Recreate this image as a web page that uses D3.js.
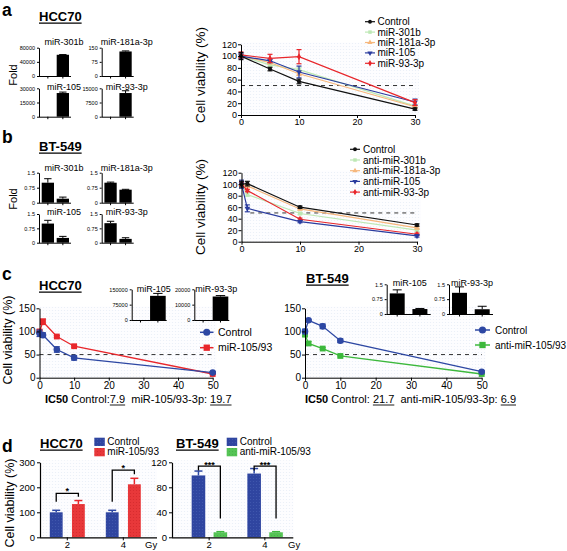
<!DOCTYPE html>
<html><head><meta charset="utf-8">
<script src="https://cdn.jsdelivr.net/npm/d3@7"></script>
<style>body{margin:0;background:#fff}svg{display:block}</style>
</head><body>
<script>
// ================= DATA =================
const foldGroups = ["Control", "miR"];
// Panel a – fold change (HCC70)
const foldTitlesA = ["miR-301b", "miR-181a-3p", "miR-105", "miR-93-3p"];
const foldValuesA = [[0, 60000], [0, 130], [0, 25000], [0, 12500]];
const foldErrorsA = [[0, 600], [0, 3], [0, 1000], [0, 1200]];
const foldMaxA = [80000, 150, 30000, 15000];
const foldTicksA = [[0, 40000, 80000], [0, 75, 150], [0, 15000, 30000], [0, 7500, 15000]];
// Panel b – fold change (BT-549)
const foldTitlesB = ["miR-301b", "miR-181a-3p", "miR-105", "miR-93-3p"];
const foldValuesB = [[1.0, 0.2], [1.0, 0.65], [1.0, 0.25], [1.02, 0.2]];
const foldErrorsB = [[0.2, 0.08], [0.03, 0.02], [0.17, 0.08], [0.1, 0.06]];
const foldTicksB = [0, 0.75, 1.5];

// Panel a – viability
const dosesA = [0, 5, 10, 30];
const seriesA = ["Control", "miR-301b", "miR-181a-3p", "miR-105", "miR-93-3p"];
const viabilityA = [[100, 78, 57, 10], [100, 85, 77, 15], [100, 89, 70, 14], [100, 92, 73, 22], [102, 96, 99, 21]];
const viabilityErrA = [[6, 3, 4, 2], [3, 2, 3, 2], [3, 2, 3, 2], [4, 3, 10, 5], [5, 7, 12, 5]];
const axisXTicksAB = [0, 10, 20, 30];
const axisYTicksAB = [0, 20, 40, 60, 80, 100, 120];

// Panel b – viability
const dosesB = [0, 1, 10, 30];
const seriesB = ["Control", "anti-miR-301b", "anti-miR-181a-3p", "anti-miR-105", "anti-miR-93-3p"];
const viabilityB = [[100, 101, 60, 29], [100, 82, 49, 20], [100, 97, 57, 24], [100, 58, 35, 10], [100, 89, 39, 13]];
const viabilityErrB = [[5, 4, 2, 2], [3, 3, 2, 2], [3, 3, 2, 2], [7, 6, 2, 2], [3, 2, 2, 2]];

// Panel c – viability
const dosesC = [0, 1, 5, 10, 50];
const axisXTicksC = [0, 10, 20, 30, 40, 50];
const axisYTicksC = [0, 50, 100, 150];
const seriesCH = ["Control", "miR-105/93"];
const viabilityCH = [[96, 92, 61, 43, 11], [100, 121, 89, 68, 8]];
const viabilityErrCH = [[7, 5, 6, 5, 2], [3, 6, 2, 2, 1]];
const seriesCB = ["Control", "anti-miR-105/93"];
const viabilityCB = [[100, 124, 111, 80, 13], [93, 74, 63, 47, 8]];
const viabilityErrCB = [[5, 2, 5, 4, 2], [3, 4, 2, 2, 1]];
// Panel c insets
const insetTitlesCH = ["miR-105", "miR-93-3p"];
const insetValuesCH = [[0, 118000], [0, 15300]];
const insetErrorsCH = [[0, 12000], [0, 600]];
const insetMaxCH = [150000, 20000];
const insetTicksCH = [[0, 75000, 150000], [0, 10000, 20000]];
const insetTitlesCB = ["miR-105", "miR-93-3p"];
const insetValuesCB = [[1.04, 0.25], [1.07, 0.24]];
const insetErrorsCB = [[0.18, 0.03], [0.3, 0.15]];
const insetTicksCB = [0, 0.75, 1.5];
const ic50H = ["7.9", "19.7"];
const ic50B = ["21.7", "6.9"];

// Panel d – radiation
const gyDoses = ["2", "4"];
const seriesDH = ["Control", "miR-105/93"];
const radiationDH = [[100, 100], [133, 212]];      // series-major
const radiationErrDH = [[8, 8], [14, 24]];
const axisYTicksDH = [0, 100, 200, 300];
const sigDH = [{ label: "*", top: 176, left: 142, right: 162 }, { label: "*", top: 269, left: 142, right: 252 }];
const seriesDB = ["Control", "anti-miR-105/93"];
const radiationDB = [[99, 102], [8, 8]];
const radiationErrDB = [[7, 8], [1, 1]];
const axisYTicksDB = [0, 40, 80, 120];
const sigDB = [{ label: "***", top: 114, left: 107, right: 30 }, { label: "***", top: 114, left: 107, right: 30 }];

// ================= DRAWING =================
const FONT = "'Liberation Sans', Arial, Helvetica, sans-serif";
const W = 567, H = 551;
const svg = d3.select("body").append("svg").attr("width", W).attr("height", H)
  .attr("font-family", FONT);
const defs = svg.append("defs");
function dotPattern(id, bg, dot, size, r) {
  const p = defs.append("pattern").attr("id", id).attr("width", size).attr("height", size)
    .attr("patternUnits", "userSpaceOnUse");
  p.append("rect").attr("width", size).attr("height", size).attr("fill", bg);
  p.append("circle").attr("cx", size / 2).attr("cy", size / 2).attr("r", r).attr("fill", dot);
}
dotPattern("bgdots", "#fdfdff", "#e9eef7", 3, 0.6);
dotPattern("blueBar", "#2f45a0", "#4259b0", 3, 0.6);
dotPattern("redBar", "#e8383a", "#d42a2d", 3, 0.6);
dotPattern("greenBar", "#55c455", "#45b445", 3, 0.6);

const C = { black: "#111", green: "#bde8b4", orange: "#f6b77c", blue: "#2a3b9e", red: "#e8262b",
  cblue: "#2d47a3", cred: "#e8262b", cgreen: "#3cb83c" };

function styleAxis(g, fs) {
  g.attr("font-family", FONT).attr("font-size", fs);
  g.select("path.domain").attr("stroke", "#000").attr("stroke-width", 1);
  g.selectAll(".tick line").attr("stroke", "#000");
  g.selectAll(".tick text").attr("fill", "#000");
}
function txt(x, y, s, fs, opts = {}) {
  const t = svg.append("text").attr("x", x).attr("y", y).attr("font-size", fs).text(s)
    .attr("font-weight", opts.bold ? "bold" : null)
    .attr("text-anchor", opts.anchor || "start");
  return t;
}
function ulTitle(x, y, s, fs) {
  const t = txt(x, y, s, fs, { bold: true });
  const bb = t.node().getBBox();
  svg.append("line").attr("x1", bb.x).attr("x2", bb.x + bb.width).attr("y1", y + 2.2).attr("y2", y + 2.2)
    .attr("stroke", "#000").attr("stroke-width", 1.2);
}
function vLabel(cx, cy, s, fs) {
  svg.append("text").attr("transform", `translate(${cx},${cy}) rotate(-90)`)
    .attr("text-anchor", "middle").attr("dy", "0.35em").attr("font-size", fs).text(s);
}

// small black bar chart (fold change)
function foldChart(cfg) {
  const { x0, yZero, yTop, max, ticks, values, errors, title, titleDx, titleY, bandFrom, bandTo, padIn, axisLen } = cfg;
  const g = svg.append("g");
  const y = d3.scaleLinear().domain([0, max]).range([yZero, yTop]);
  const x = d3.scaleBand().domain(foldGroups).range([x0 + bandFrom, x0 + bandTo]).paddingInner(padIn).paddingOuter(0);
  const bw = x.bandwidth();
  values.forEach((v, i) => {
    if (v <= 0) return;
    const bx = x(foldGroups[i]), cx = bx + bw / 2;
    g.append("rect").attr("x", bx).attr("width", bw).attr("y", y(v)).attr("height", yZero - y(v)).attr("fill", "#000");
    const ye = y(v + errors[i]);
    g.append("line").attr("x1", cx).attr("x2", cx).attr("y1", y(v)).attr("y2", ye).attr("stroke", "#000");
    g.append("line").attr("x1", cx - bw * 0.3).attr("x2", cx + bw * 0.3).attr("y1", ye).attr("y2", ye).attr("stroke", "#000");
  });
  const ay = g.append("g").attr("transform", `translate(${x0},0)`)
    .call(d3.axisLeft(y).tickValues(ticks).tickSize(2).tickPadding(2).tickSizeOuter(0).tickFormat(d => String(d)));
  styleAxis(ay, 5.5);
  g.append("line").attr("x1", x0).attr("x2", x0 + axisLen).attr("y1", yZero + 0.5).attr("y2", yZero + 0.5).attr("stroke", "#000");
  foldGroups.forEach(k => {
    const cx = x(k) + bw / 2;
    g.append("line").attr("x1", cx).attr("x2", cx).attr("y1", yZero).attr("y2", yZero + 2.5).attr("stroke", "#000");
  });
  txt(x0 + titleDx, titleY, title, 9, { anchor: "middle" });
}

// line chart with error bars
function lineChart(cfg) {
  const { x0, x1, yZero, yTop, xMax, yMax, xTicks, yTicks, doses, values, errors, colors, symbols,
    symSize, fs, dashFrom, lw, capW, order } = cfg;
  const x = d3.scaleLinear().domain([0, xMax]).range([x0, x1]);
  const y = d3.scaleLinear().domain([0, yMax]).range([yZero, yTop]);
  svg.append("rect").attr("x", x0).attr("y", yTop - 2).attr("width", x1 - x0 + 4).attr("height", yZero - yTop + 2)
    .attr("fill", "url(#bgdots)");
  svg.append("line").attr("x1", x(dashFrom)).attr("x2", x(xMax)).attr("y1", y(50)).attr("y2", y(50))
    .attr("stroke", "#333").attr("stroke-width", 1).attr("stroke-dasharray", "4,4");
  order.forEach(si => {
    const vals = values[si];
    const pts = doses.map((d, i) => [x(d), y(vals[i])]);
    svg.append("path").attr("d", d3.line()(pts)).attr("fill", "none").attr("stroke", colors[si]).attr("stroke-width", lw);
    doses.forEach((d, i) => {
      const e = errors[si][i]; if (!e) return;
      const cx = x(d), ya = y(vals[i] - e), yb = y(vals[i] + e);
      svg.append("line").attr("x1", cx).attr("x2", cx).attr("y1", ya).attr("y2", yb).attr("stroke", colors[si]).attr("stroke-width", 1.2);
      [ya, yb].forEach(yy => svg.append("line").attr("x1", cx - capW).attr("x2", cx + capW).attr("y1", yy).attr("y2", yy)
        .attr("stroke", colors[si]).attr("stroke-width", 1.2));
    });
    const sym = symbols[si];
    svg.append("g").selectAll("path").data(doses).join("path")
      .attr("transform", (d, i) => `translate(${x(d)},${y(vals[i])}) rotate(${sym.rot || 0})`)
      .attr("d", d3.symbol(sym.type, symSize)).attr("fill", colors[si]);
  });
  const ax = svg.append("g").attr("transform", `translate(0,${yZero})`)
    .call(d3.axisBottom(x).tickValues(xTicks).tickSize(3).tickPadding(1).tickSizeOuter(0));
  styleAxis(ax, fs);
  const ay = svg.append("g").attr("transform", `translate(${x0},0)`)
    .call(d3.axisLeft(y).tickValues(yTicks).tickSize(3).tickPadding(1).tickSizeOuter(0));
  styleAxis(ay, fs);
}

function legend(cfg) {
  const { lx0, lx1, tx, y0, dy, names, colors, symbols, symSize, fs, lw } = cfg;
  names.forEach((n, i) => {
    const yy = y0 + i * dy;
    svg.append("line").attr("x1", lx0).attr("x2", lx1).attr("y1", yy).attr("y2", yy).attr("stroke", colors[i]).attr("stroke-width", lw);
    const sym = symbols[i];
    svg.append("path").attr("transform", `translate(${(lx0 + lx1) / 2},${yy}) rotate(${sym.rot || 0})`)
      .attr("d", d3.symbol(sym.type, symSize)).attr("fill", colors[i]);
    svg.append("text").attr("x", tx).attr("y", yy).attr("dy", "0.35em").attr("font-size", fs).text(n);
  });
}

// radiation bar chart
function radChart(cfg) {
  const { x0, xEnd, yZero, yTop, yMax, yTicks, series, values, errors, fills, errColors, sig, pRange, pPad, subRange, subPad, fs, gyX, starDy } = cfg;
  const y = d3.scaleLinear().domain([0, yMax]).range([yZero, yTop]);
  const xp = d3.scalePoint().domain(gyDoses).range(pRange).padding(pPad);
  const xs = d3.scaleBand().domain(series).range(subRange).paddingInner(subPad);
  const bw = xs.bandwidth();
  svg.append("rect").attr("x", x0).attr("y", yTop - 2).attr("width", xEnd - x0).attr("height", yZero - yTop + 2).attr("fill", "url(#bgdots)");
  series.forEach((s, si) => {
    gyDoses.forEach((g, gi) => {
      const v = values[si][gi], bx = xp(g) + xs(s), cx = bx + bw / 2;
      const ye = y(v + errors[si][gi]);
      svg.append("line").attr("x1", cx).attr("x2", cx).attr("y1", y(v)).attr("y2", ye).attr("stroke", errColors[si]).attr("stroke-width", 1.5);
      svg.append("line").attr("x1", cx - 4).attr("x2", cx + 4).attr("y1", ye).attr("y2", ye).attr("stroke", errColors[si]).attr("stroke-width", 1.5);
      svg.append("rect").attr("x", bx).attr("width", bw).attr("y", y(v)).attr("height", yZero - y(v)).attr("fill", fills[si]);
    });
  });
  sig.forEach((b, gi) => {
    const g = gyDoses[gi];
    const xl = xp(g) + xs(series[0]) + bw / 2, xr = xp(g) + xs(series[1]) + bw / 2;
    const path = d3.path();
    path.moveTo(xl, y(b.left)); path.lineTo(xl, y(b.top)); path.lineTo(xr, y(b.top)); path.lineTo(xr, y(b.right));
    svg.append("path").attr("d", path.toString()).attr("fill", "none").attr("stroke", "#000").attr("stroke-width", 1.3);
    svg.append("text").attr("x", (xl + xr) / 2).attr("y", y(b.top) + starDy).attr("text-anchor", "middle")
      .attr("font-size", 9).attr("font-weight", "bold").text(b.label);
  });
  const ay = svg.append("g").attr("transform", `translate(${x0},0)`)
    .call(d3.axisLeft(y).tickValues(yTicks).tickSize(3).tickPadding(2).tickSizeOuter(0));
  styleAxis(ay, fs);
  ay.select("path.domain").attr("stroke-width", 1.2);
  svg.append("line").attr("x1", x0).attr("x2", xEnd).attr("y1", yZero + 0.5).attr("y2", yZero + 0.5).attr("stroke", "#000").attr("stroke-width", 1.2);
  gyDoses.forEach(g => {
    svg.append("line").attr("x1", xp(g)).attr("x2", xp(g)).attr("y1", yZero).attr("y2", yZero + 3).attr("stroke", "#000");
    svg.append("text").attr("x", xp(g)).attr("y", yZero + 11).attr("text-anchor", "middle").attr("font-size", fs).text(g);
  });
  svg.append("text").attr("x", gyX).attr("y", yZero + 11).attr("font-size", fs).text("Gy");
}

function ic50Text(x, y, parts) {
  const t = svg.append("text").attr("x", x).attr("y", y).attr("font-size", 11)
    .attr("xml:space", "preserve").style("white-space", "pre");
  const spans = parts.map(p => t.append("tspan").attr("font-weight", p.bold ? "bold" : null).text(p.t));
  parts.forEach((p, i) => {
    if (!p.ul) return;
    const bb = spans[i].node().getBBox();
    svg.append("line").attr("x1", bb.x).attr("x2", bb.x + bb.width).attr("y1", y + 2).attr("y2", y + 2).attr("stroke", "#000").attr("stroke-width", 0.9);
  });
}

// ---------- panel letters ----------
txt(2, 16, "a", 17.5, { bold: true });
txt(2, 143, "b", 17.5, { bold: true });
txt(2, 280, "c", 17.5, { bold: true });
txt(2, 452, "d", 17.5, { bold: true });

// ---------- Panel a ----------
ulTitle(39, 21, "HCC70", 13);
vLabel(13, 75, "Fold", 11);
const foldPosA = [[39, 76, 47.7, 45], [101.7, 76, 47.7, 45], [39, 116.7, 88.3, 90], [101.7, 116.7, 88.3, 90]];
foldTitlesA.forEach((t, i) => {
  const [x0, yZero, yTop, titleY] = foldPosA[i];
  foldChart({ x0, yZero, yTop, max: foldMaxA[i], ticks: foldTicksA[i], values: foldValuesA[i], errors: foldErrorsA[i],
    title: t, titleDx: 25, titleY, bandFrom: 2.7, bandTo: 30, padIn: 0.18, axisLen: 32 });
});
const symsAB = [{ type: d3.symbolCircle }, { type: d3.symbolSquare }, { type: d3.symbolTriangle }, { type: d3.symbolTriangle, rot: 180 }, { type: d3.symbolDiamond }];
const colsAB = [C.black, C.green, C.orange, C.blue, C.red];
vLabel(200, 75, "Cell viability (%)", 13.5);
lineChart({ x0: 241, x1: 415, yZero: 115, yTop: 44.3, xMax: 30, yMax: 120, xTicks: axisXTicksAB, yTicks: axisYTicksAB,
  doses: dosesA, values: viabilityA, errors: viabilityErrA, colors: colsAB, symbols: symsAB, symSize: 14, fs: 9,
  dashFrom: 0, lw: 1.2, capW: 2.5, order: [1, 2, 3, 4, 0] });
legend({ lx0: 365, lx1: 375, tx: 377.5, y0: 21.7, dy: 10.4, names: seriesA, colors: colsAB, symbols: symsAB, symSize: 12, fs: 10, lw: 1.2 });

// ---------- Panel b ----------
ulTitle(39, 151, "BT-549", 13);
vLabel(13, 199, "Fold", 11);
const foldPosB = [[39, 202.7, 172.7, 171], [101.7, 202.7, 172.7, 171], [39, 242.7, 214, 214.5], [101.7, 242.7, 214, 214.5]];
foldTitlesB.forEach((t, i) => {
  const [x0, yZero, yTop, titleY] = foldPosB[i];
  foldChart({ x0, yZero, yTop, max: 1.5, ticks: foldTicksB, values: foldValuesB[i], errors: foldErrorsB[i],
    title: t, titleDx: 25, titleY, bandFrom: 2.7, bandTo: 30, padIn: 0.18, axisLen: 32 });
});
vLabel(200, 207, "Cell viability (%)", 13.5);
lineChart({ x0: 241.5, x1: 417, yZero: 241.7, yTop: 172.7, xMax: 30, yMax: 120, xTicks: axisXTicksAB, yTicks: axisYTicksAB,
  doses: dosesB, values: viabilityB, errors: viabilityErrB, colors: colsAB, symbols: symsAB, symSize: 14, fs: 9,
  dashFrom: 1.5, lw: 1.2, capW: 2.5, order: [1, 2, 4, 3, 0] });
legend({ lx0: 350, lx1: 360, tx: 363, y0: 149.3, dy: 10.7, names: seriesB, colors: colsAB, symbols: symsAB, symSize: 12, fs: 10, lw: 1.2 });

// ---------- Panel c ----------
ulTitle(39, 290, "HCC70", 13);
ulTitle(306, 283, "BT-549", 13);
vLabel(8, 340, "Cell viability (%)", 12.5);
const symsC = [{ type: d3.symbolCircle }, { type: d3.symbolSquare }];
lineChart({ x0: 39.5, x1: 212.7, yZero: 377.7, yTop: 308.3, xMax: 50, yMax: 150, xTicks: axisXTicksC, yTicks: axisYTicksC,
  doses: dosesC, values: viabilityCH, errors: viabilityErrCH, colors: [C.cblue, C.cred], symbols: symsC, symSize: 34, fs: 10,
  dashFrom: 0, lw: 1.3, capW: 3, order: [1, 0] });
legend({ lx0: 200, lx1: 213.5, tx: 218, y0: 332.3, dy: 15.4, names: seriesCH, colors: [C.cblue, C.cred], symbols: symsC, symSize: 40, fs: 10.5, lw: 1.5 });
lineChart({ x0: 305, x1: 481.7, yZero: 377.7, yTop: 308.3, xMax: 50, yMax: 150, xTicks: axisXTicksC, yTicks: axisYTicksC,
  doses: dosesC, values: viabilityCB, errors: viabilityErrCB, colors: [C.cblue, C.cgreen], symbols: symsC, symSize: 34, fs: 10,
  dashFrom: 0, lw: 1.3, capW: 3, order: [1, 0] });
legend({ lx0: 475, lx1: 490, tx: 495, y0: 330, dy: 15, names: seriesCB, colors: [C.cblue, C.cgreen], symbols: symsC, symSize: 40, fs: 10, lw: 1.5 });
// insets
[131.7, 194.3].forEach((x0, i) => foldChart({ x0, yZero: 320, yTop: 289.3, max: insetMaxCH[i], ticks: insetTicksCH[i],
  values: insetValuesCH[i], errors: insetErrorsCH[i], title: insetTitlesCH[i], titleDx: 22, titleY: 292,
  bandFrom: 1, bandTo: 34, padIn: 0.1, axisLen: 35 }));
[386.7, 449].forEach((x0, i) => foldChart({ x0, yZero: 314, yTop: 284.3, max: 1.5, ticks: insetTicksCB,
  values: insetValuesCB[i], errors: insetErrorsCB[i], title: insetTitlesCB[i], titleDx: 23, titleY: 286,
  bandFrom: 3, bandTo: 40.7, padIn: 0.34, axisLen: 44 }));
ic50Text(45, 403, [{ t: "IC50", bold: true }, { t: " Control:" }, { t: ic50H[0], ul: true }, { t: "  miR-105/93-3p: " }, { t: ic50H[1], ul: true }]);
ic50Text(305, 403, [{ t: "IC50", bold: true }, { t: " Control: " }, { t: ic50B[0], ul: true }, { t: "  anti-miR-105/93-3p: " }, { t: ic50B[1], ul: true }]);

// ---------- Panel d ----------
ulTitle(40, 448, "HCC70", 13);
ulTitle(176, 448, "BT-549", 13);
vLabel(10, 503, "Cell viability (%)", 12.5);
function sqLegend(x, y0, names, fills) {
  names.forEach((n, i) => {
    svg.append("rect").attr("x", x).attr("y", y0 + i * 10.3).attr("width", 10.5).attr("height", 8.3).attr("fill", fills[i]);
    svg.append("text").attr("x", x + 13).attr("y", y0 + i * 10.3 + 7.2).attr("font-size", 10).text(n);
  });
}
sqLegend(94.3, 437.7, seriesDH, ["url(#blueBar)", "url(#redBar)"]);
sqLegend(226.7, 437.7, seriesDB, ["url(#blueBar)", "url(#greenBar)"]);
radChart({ x0: 40, xEnd: 157, yZero: 537.3, yTop: 462.3, yMax: 300, yTicks: axisYTicksDH, series: seriesDH,
  values: radiationDH, errors: radiationErrDH, fills: ["url(#blueBar)", "url(#redBar)"], errColors: [C.cblue, C.cred],
  sig: sigDH, pRange: [40, 150.6], pPad: 0.4875, subRange: [-17.5, 17.5], subPad: 0.42, fs: 9.5, gyX: 145, starDy: 1 });
radChart({ x0: 172, xEnd: 293.3, yZero: 537.3, yTop: 462.3, yMax: 120, yTicks: axisYTicksDB, series: seriesDB,
  values: radiationDB, errors: radiationErrDB, fills: ["url(#blueBar)", "url(#greenBar)"], errColors: [C.cblue, C.cgreen],
  sig: sigDB, pRange: [172, 302], pPad: 0.667, subRange: [-17.5, 18], subPad: 0.38, fs: 9.5, gyX: 288, starDy: 1.5 });
</script>
</body></html>
